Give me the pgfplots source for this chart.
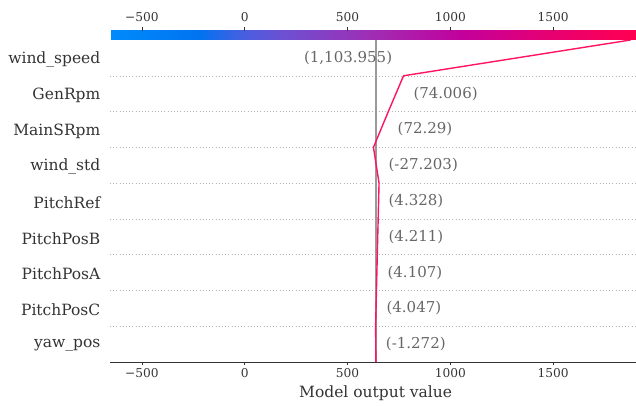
\documentclass[border=0pt]{standalone}
\usepackage{pgfplots}
\pgfplotsset{compat=1.18}
\usepackage{fontspec}
\setmainfont{DejaVu Serif}
\definecolor{txt}{HTML}{333333}
\definecolor{vlab}{HTML}{666666}
\definecolor{shapred}{RGB}{255,20,95}
\definecolor{baseg}{HTML}{999999}
\begin{document}
\begin{tikzpicture}
\begin{axis}[name=ax, at={(0,0)}, anchor=south west,
  scale only axis, width=526pt, height=322pt,
  xmin=-655, xmax=1903, ymin=0, ymax=9,
  axis x line*=bottom, axis y line*=left,
  y axis line style={draw=none},
  x axis line style={draw=txt, line width=0.8pt, -},
  tick align=outside, major tick length=3.5pt,
  xtick={-500,0,500,1000,1500},
  xticklabels={−500,0,500,1000,1500},
  x tick label style={font=\fontsize{12.2}{14}\selectfont, text=txt, yshift=1pt},
  xtick style={draw=txt, line width=0.6pt},
  ytick={0.5,1.5,...,8.5},
  yticklabels={yaw\_pos,PitchPosC,PitchPosA,PitchPosB,PitchRef,wind\_std,MainSRpm,GenRpm,wind\_speed},
  y tick label style={font=\fontsize{15.5}{18}\selectfont, text=txt, inner sep=0pt, xshift=-6pt, yshift=-1.5pt},
  ytick style={draw=none},
  extra y ticks={1,2,3,4,5,6,7,8},
  extra y tick labels={},
  extra y tick style={grid=major, major grid style={draw=gray!60, dash pattern=on 0.6pt off 2.6pt, line width=0.5pt}, tick style={draw=none}},
  xlabel={Model output value},
  x label style={at={(axis description cs:0.505,-0.0963)}, anchor=center, font=\fontsize{15.5}{18}\selectfont, text=txt},
  point meta min=-655, point meta max=1903,
  colormap={shap}{rgb255(0pt)=(0,139,251); rgb255(17pt)=(0,115,240); rgb255(25pt)=(70,95,225); rgb255(33pt)=(110,80,210); rgb255(50pt)=(160,45,180); rgb255(67pt)=(195,0,155); rgb255(83pt)=(230,0,115); rgb255(100pt)=(255,0,81)},
  colorbar horizontal,
  colorbar style={
    at={(parent axis.north west)}, anchor=south west, yshift=0.3cm,
    scale only axis, width=526pt, height=9pt,
    xtick pos=upper, xticklabel pos=upper,
    xtick={-500,0,500,1000,1500},
    xticklabels={−500,0,500,1000,1500},
    x tick label style={font=\fontsize{12.2}{14}\selectfont, text=txt, yshift=2pt},
    tick align=outside, major tick length=3.5pt,
    xtick style={draw=txt, line width=0.6pt},
    axis line style={draw=none},
    ytick=\empty,
  },
]
\addplot[draw=baseg, line width=1.5pt] coordinates {(638,0) (638,9)};
\addplot[draw=shapred, line width=1.4pt] coordinates {
  (638,0) (636.73,1) (640.78,2) (644.88,3) (649.10,4) (653.42,5)
  (626.22,6) (698.51,7) (772.52,8) (1876.47,9)};
\begin{scope}[every node/.style={inner sep=0pt, text=vlab, font=\fontsize{15}{18}\selectfont}]
\node[anchor=east] at (axis cs:718,8.5) {(1,103.955)};
\node[anchor=west] at (axis cs:820,7.5) {(74.006)};
\node[anchor=west] at (axis cs:743,6.5) {(72.29)};
\node[anchor=west] at (axis cs:699,5.5) {(-27.203)};
\node[anchor=west] at (axis cs:699,4.5) {(4.328)};
\node[anchor=west] at (axis cs:699,3.5) {(4.211)};
\node[anchor=west] at (axis cs:694,2.5) {(4.107)};
\node[anchor=west] at (axis cs:689,1.5) {(4.047)};
\node[anchor=west] at (axis cs:686,0.5) {(-1.272)};
\end{scope}
\end{axis}
\pgfresetboundingbox
\path ([xshift=-110pt,yshift=-44pt]ax.south west) rectangle ([yshift=40pt]ax.north east);
\end{tikzpicture}
\end{document}
